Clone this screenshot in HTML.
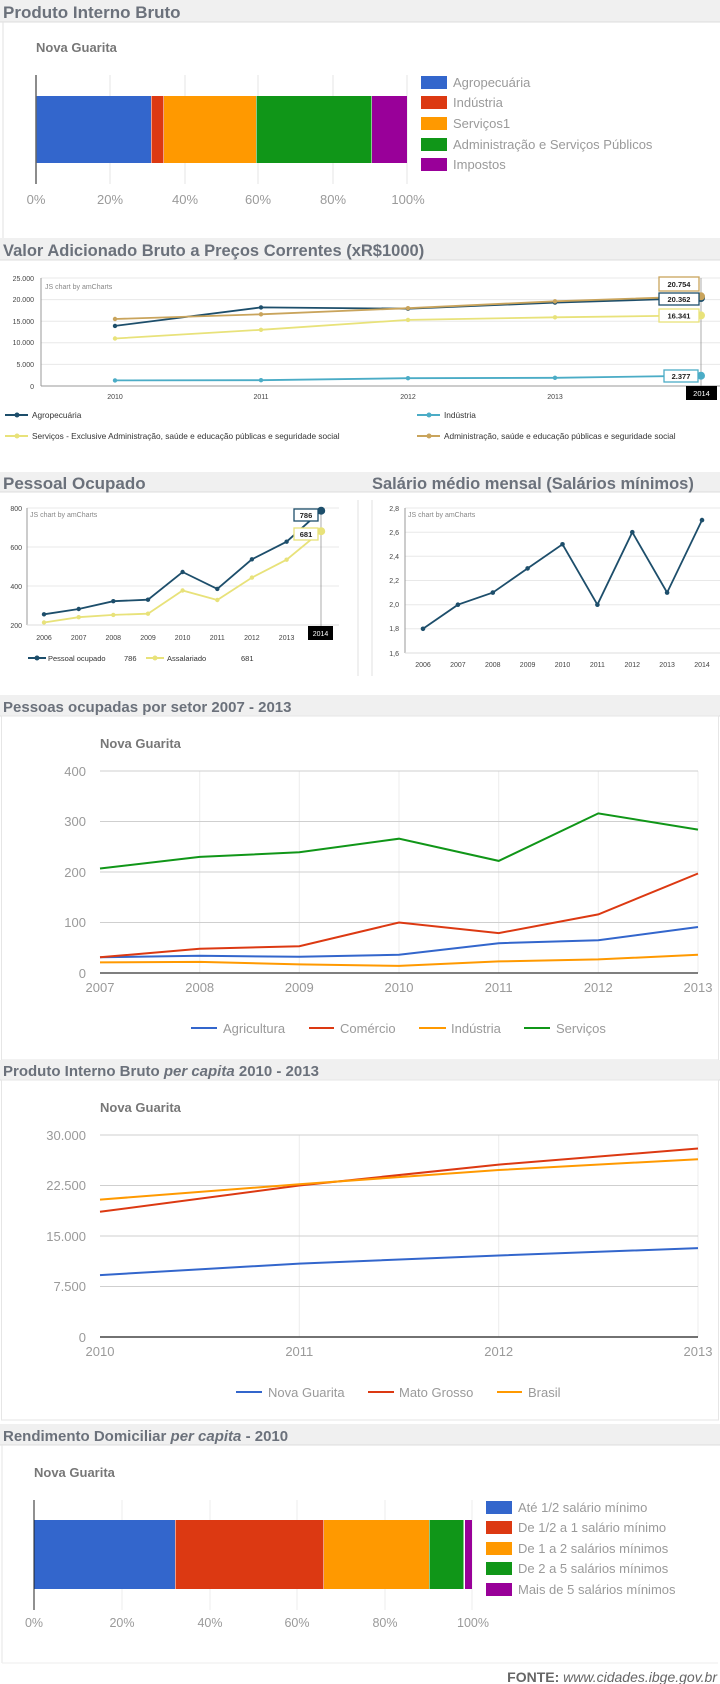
<!DOCTYPE html>
<html><head><meta charset="utf-8"><style>
html,body{margin:0;padding:0;background:#fff;}
svg{display:block;font-family:"Liberation Sans",Arial,sans-serif;}
.t{font-weight:bold;fill:#6b717b;}
.ng{font-weight:bold;fill:#777;font-size:13px;}
.g{fill:#9a9a9a;}
.s{fill:#444;font-size:7px;}
</style></head><body>
<svg width="720" height="1684" viewBox="0 0 720 1684" xmlns="http://www.w3.org/2000/svg">
<!-- Title 1 -->
<rect x="0" y="0" width="720" height="22" fill="#f0f0f0"/>
<line x1="0" y1="22" x2="720" y2="22" stroke="#ddd"/>
<text x="3" y="18" class="t" font-size="17">Produto Interno Bruto</text>
<line x1="3" y1="22" x2="3" y2="238" stroke="#e2e2e2"/>
<text x="36" y="52" class="ng">Nova Guarita</text>
<g stroke="#e6e6e6"><line x1="110" y1="75" x2="110" y2="184"/><line x1="185" y1="75" x2="185" y2="184"/><line x1="258" y1="75" x2="258" y2="184"/><line x1="333" y1="75" x2="333" y2="184"/><line x1="407" y1="75" x2="407" y2="184"/></g>
<rect x="36" y="96" width="115" height="67" fill="#3366cc"/>
<rect x="151.5" y="96" width="12" height="67" fill="#dc3912"/>
<rect x="164" y="96" width="92" height="67" fill="#ff9900"/>
<rect x="256.5" y="96" width="115" height="67" fill="#109618"/>
<rect x="372" y="96" width="35" height="67" fill="#990099"/>
<line x1="36" y1="75" x2="36" y2="184" stroke="#666" stroke-width="1.5"/>
<g class="g" font-size="13" text-anchor="middle"><text x="36" y="204">0%</text><text x="110" y="204">20%</text><text x="185" y="204">40%</text><text x="258" y="204">60%</text><text x="333" y="204">80%</text><text x="408" y="204">100%</text></g>
<rect x="421" y="76" width="26" height="13" fill="#3366cc"/>
<rect x="421" y="96" width="26" height="13" fill="#dc3912"/>
<rect x="421" y="117" width="26" height="13" fill="#ff9900"/>
<rect x="421" y="138" width="26" height="13" fill="#109618"/>
<rect x="421" y="158" width="26" height="13" fill="#990099"/>
<g class="g" font-size="13"><text x="453" y="87">Agropecuária</text><text x="453" y="107">Indústria</text><text x="453" y="128">Serviços1</text><text x="453" y="149">Administração e Serviços Públicos</text><text x="453" y="169">Impostos</text></g>

<!-- Title 2 -->
<rect x="0" y="238" width="720" height="22" fill="#f0f0f0"/>
<line x1="0" y1="260" x2="720" y2="260" stroke="#ddd"/>
<text x="3" y="256" class="t" font-size="16.5">Valor Adicionado Bruto a Preços Correntes (xR$1000)</text>
<g stroke="#e8e8e8"><line x1="41" y1="278" x2="720" y2="278"/><line x1="41" y1="299.6" x2="720" y2="299.6"/><line x1="41" y1="321.2" x2="720" y2="321.2"/><line x1="41" y1="342.8" x2="720" y2="342.8"/><line x1="41" y1="364.4" x2="720" y2="364.4"/></g>
<line x1="41" y1="278" x2="41" y2="386" stroke="#999"/>
<line x1="41" y1="386" x2="720" y2="386" stroke="#999"/>
<g class="s" text-anchor="end"><text x="34" y="281">25.000</text><text x="34" y="302">20.000</text><text x="34" y="324">15.000</text><text x="34" y="345">10.000</text><text x="34" y="367">5.000</text><text x="34" y="389">0</text></g>
<g class="s" text-anchor="middle"><text x="115" y="399">2010</text><text x="261" y="399">2011</text><text x="408" y="399">2012</text><text x="555" y="399">2013</text></g>
<text x="45" y="289" fill="#888" font-size="7">JS chart by amCharts</text>
<line x1="701" y1="278" x2="701" y2="386" stroke="#888" stroke-width="0.7"/>
<g fill="none" stroke-width="1.8">
<polyline stroke="#4bacc6" points="115,380.4 261,380.2 408,378.2 555,377.8 701,375.7"/>
<polyline stroke="#e8e27a" points="115,338.5 261,329.8 408,319.9 555,317.3 701,315.4"/>
<polyline stroke="#1d4e6b" points="115,325.9 261,307.4 408,308.7 555,302.6 701,298"/>
<polyline stroke="#c9a45c" points="115,319 261,314.3 408,308.2 555,301.3 701,296.3"/>
</g>
<g fill="#4bacc6"><circle cx="115" cy="380.4" r="2.2"/><circle cx="261" cy="380.2" r="2.2"/><circle cx="408" cy="378.2" r="2.2"/><circle cx="555" cy="377.8" r="2.2"/><circle cx="701" cy="375.7" r="4"/></g>
<g fill="#e8e27a"><circle cx="115" cy="338.5" r="2.2"/><circle cx="261" cy="329.8" r="2.2"/><circle cx="408" cy="319.9" r="2.2"/><circle cx="555" cy="317.3" r="2.2"/><circle cx="701" cy="315.4" r="4"/></g>
<g fill="#1d4e6b"><circle cx="115" cy="325.9" r="2.2"/><circle cx="261" cy="307.4" r="2.2"/><circle cx="408" cy="308.7" r="2.2"/><circle cx="555" cy="302.6" r="2.2"/><circle cx="701" cy="298" r="4"/></g>
<g fill="#c9a45c"><circle cx="115" cy="319" r="2.2"/><circle cx="261" cy="314.3" r="2.2"/><circle cx="408" cy="308.2" r="2.2"/><circle cx="555" cy="301.3" r="2.2"/><circle cx="701" cy="296.3" r="4"/></g>
<g font-size="7.5" font-weight="bold" fill="#222" text-anchor="middle">
<rect x="659" y="277" width="40" height="14" fill="#fff" stroke="#c9a45c" stroke-width="1.3"/><text x="679" y="287">20.754</text>
<rect x="659" y="293" width="40" height="12" fill="#fff" stroke="#1d4e6b" stroke-width="1.3"/><text x="679" y="302">20.362</text>
<rect x="659" y="309" width="40" height="13" fill="#fff" stroke="#e8e27a" stroke-width="1.3"/><text x="679" y="318.5">16.341</text>
<rect x="664" y="370" width="34" height="12" fill="#fff" stroke="#4bacc6" stroke-width="1.3"/><text x="681" y="379">2.377</text>
</g>
<rect x="686" y="386" width="31" height="14" fill="#000"/><text x="701.5" y="396" fill="#fff" font-size="7.5" text-anchor="middle">2014</text>
<g stroke-width="2"><line x1="5" y1="415" x2="28" y2="415" stroke="#1d4e6b"/><line x1="417" y1="415" x2="440" y2="415" stroke="#4bacc6"/><line x1="5" y1="436" x2="28" y2="436" stroke="#e8e27a"/><line x1="417" y1="436" x2="440" y2="436" stroke="#c9a45c"/></g>
<circle cx="17" cy="415" r="2.5" fill="#1d4e6b"/><circle cx="429" cy="415" r="2.5" fill="#4bacc6"/><circle cx="17" cy="436" r="2.5" fill="#e8e27a"/><circle cx="429" cy="436" r="2.5" fill="#c9a45c"/>
<g fill="#333" font-size="8.3"><text x="32" y="418">Agropecuária</text><text x="444" y="418">Indústria</text><text x="32" y="439">Serviços - Exclusive Administração, saúde e educação públicas e seguridade social</text><text x="444" y="439">Administração, saúde e educação públicas e seguridade social</text></g>

<!-- Title 3 pair -->
<rect x="0" y="472" width="720" height="20" fill="#f0f0f0"/>
<line x1="0" y1="492" x2="720" y2="492" stroke="#ddd"/>
<text x="3" y="489" class="t" font-size="17">Pessoal Ocupado</text>
<text x="372" y="489" class="t" font-size="16.5">Salário médio mensal (Salários mínimos)</text>
<line x1="358" y1="500" x2="358" y2="676" stroke="#e2e2e2"/>
<line x1="372" y1="500" x2="372" y2="676" stroke="#e2e2e2"/>
<!-- left chart -->
<g stroke="#e8e8e8"><line x1="27" y1="508" x2="339" y2="508"/><line x1="27" y1="547" x2="339" y2="547"/><line x1="27" y1="586" x2="339" y2="586"/></g>
<line x1="27" y1="508" x2="27" y2="625" stroke="#999"/><line x1="27" y1="625" x2="339" y2="625" stroke="#ddd"/>
<g class="s" text-anchor="end"><text x="22" y="511">800</text><text x="22" y="550">600</text><text x="22" y="589">400</text><text x="22" y="628">200</text></g>
<text x="30" y="517" fill="#888" font-size="7">JS chart by amCharts</text>
<g class="s" text-anchor="middle"><text x="44" y="640">2006</text><text x="78.7" y="640">2007</text><text x="113.3" y="640">2008</text><text x="148" y="640">2009</text><text x="182.6" y="640">2010</text><text x="217.3" y="640">2011</text><text x="251.9" y="640">2012</text><text x="286.6" y="640">2013</text></g>
<line x1="321" y1="508" x2="321" y2="626" stroke="#888" stroke-width="0.7"/>
<g fill="none" stroke-width="1.8">
<polyline stroke="#e8e27a" points="44,622.5 78.7,617.2 113.3,614.9 148,613.7 182.6,590.5 217.3,600 251.9,577.6 286.6,559.7 321.2,531.2"/>
<polyline stroke="#1d4e6b" points="44,614.3 78.7,609 113.3,601.2 148,599.7 182.6,572 217.3,588.9 251.9,559.3 286.6,541.7 321.2,510.7"/>
</g>
<g fill="#e8e27a"><circle cx="44" cy="622.5" r="2.2"/><circle cx="78.7" cy="617.2" r="2.2"/><circle cx="113.3" cy="614.9" r="2.2"/><circle cx="148" cy="613.7" r="2.2"/><circle cx="182.6" cy="590.5" r="2.2"/><circle cx="217.3" cy="600" r="2.2"/><circle cx="251.9" cy="577.6" r="2.2"/><circle cx="286.6" cy="559.7" r="2.2"/><circle cx="321.2" cy="531.2" r="4"/></g>
<g fill="#1d4e6b"><circle cx="44" cy="614.3" r="2.2"/><circle cx="78.7" cy="609" r="2.2"/><circle cx="113.3" cy="601.2" r="2.2"/><circle cx="148" cy="599.7" r="2.2"/><circle cx="182.6" cy="572" r="2.2"/><circle cx="217.3" cy="588.9" r="2.2"/><circle cx="251.9" cy="559.3" r="2.2"/><circle cx="286.6" cy="541.7" r="2.2"/><circle cx="321.2" cy="510.7" r="4"/></g>
<g font-size="7.5" font-weight="bold" fill="#222" text-anchor="middle">
<rect x="294" y="509" width="24" height="12" fill="#fff" stroke="#1d4e6b" stroke-width="1.3"/><text x="306" y="518">786</text>
<rect x="294" y="528" width="24" height="12" fill="#fff" stroke="#e8e27a" stroke-width="1.3"/><text x="306" y="537">681</text>
</g>
<rect x="308" y="626" width="25" height="14" fill="#000"/><text x="320.5" y="636" fill="#fff" font-size="7" text-anchor="middle">2014</text>
<line x1="28" y1="658" x2="46" y2="658" stroke="#1d4e6b" stroke-width="2"/><circle cx="37" cy="658" r="2.5" fill="#1d4e6b"/>
<line x1="146" y1="658" x2="164" y2="658" stroke="#e8e27a" stroke-width="2"/><circle cx="155" cy="658" r="2.5" fill="#e8e27a"/>
<g fill="#333" font-size="7.5"><text x="48" y="661">Pessoal ocupado</text><text x="124" y="661">786</text><text x="167" y="661">Assalariado</text><text x="241" y="661">681</text></g>
<!-- right chart -->
<g stroke="#e8e8e8"><line x1="405" y1="508" x2="720" y2="508"/><line x1="405" y1="532.2" x2="720" y2="532.2"/><line x1="405" y1="556.3" x2="720" y2="556.3"/><line x1="405" y1="580.5" x2="720" y2="580.5"/><line x1="405" y1="604.7" x2="720" y2="604.7"/><line x1="405" y1="628.8" x2="720" y2="628.8"/></g>
<line x1="405" y1="508" x2="405" y2="653" stroke="#999"/><line x1="405" y1="653" x2="720" y2="653" stroke="#ddd"/>
<g class="s" text-anchor="end"><text x="399" y="511">2,8</text><text x="399" y="535">2,6</text><text x="399" y="559">2,4</text><text x="399" y="583">2,2</text><text x="399" y="607">2,0</text><text x="399" y="631">1,8</text><text x="399" y="656">1,6</text></g>
<text x="408" y="517" fill="#888" font-size="7">JS chart by amCharts</text>
<g class="s" text-anchor="middle"><text x="423" y="667">2006</text><text x="457.9" y="667">2007</text><text x="492.8" y="667">2008</text><text x="527.6" y="667">2009</text><text x="562.5" y="667">2010</text><text x="597.4" y="667">2011</text><text x="632.3" y="667">2012</text><text x="667.1" y="667">2013</text><text x="702" y="667">2014</text></g>
<polyline fill="none" stroke="#1d4e6b" stroke-width="1.8" points="423,628.8 457.9,604.7 492.8,592.6 527.6,568.4 562.5,544.3 597.4,604.7 632.3,532.2 667.1,592.6 702,520.1"/>
<g fill="#1d4e6b"><circle cx="423" cy="628.8" r="2.3"/><circle cx="457.9" cy="604.7" r="2.3"/><circle cx="492.8" cy="592.6" r="2.3"/><circle cx="527.6" cy="568.4" r="2.3"/><circle cx="562.5" cy="544.3" r="2.3"/><circle cx="597.4" cy="604.7" r="2.3"/><circle cx="632.3" cy="532.2" r="2.3"/><circle cx="667.1" cy="592.6" r="2.3"/><circle cx="702" cy="520.1" r="2.3"/></g>

<!-- Title 4 -->
<rect x="0" y="695" width="720" height="21" fill="#f0f0f0"/>
<line x1="0" y1="716" x2="720" y2="716" stroke="#ddd"/>
<text x="3" y="712" class="t" font-size="15">Pessoas ocupadas por setor 2007 - 2013</text>
<rect x="1.5" y="716" width="717" height="344" fill="none" stroke="#e6e6e6"/>
<text x="100" y="748" class="ng">Nova Guarita</text>
<g stroke="#ececec"><line x1="199.7" y1="771" x2="199.7" y2="973"/><line x1="299.3" y1="771" x2="299.3" y2="973"/><line x1="399" y1="771" x2="399" y2="973"/><line x1="498.7" y1="771" x2="498.7" y2="973"/><line x1="598.3" y1="771" x2="598.3" y2="973"/><line x1="698" y1="771" x2="698" y2="973"/></g>
<g stroke="#cfcfcf"><line x1="100" y1="771" x2="698" y2="771"/><line x1="100" y1="821.5" x2="698" y2="821.5"/><line x1="100" y1="872" x2="698" y2="872"/><line x1="100" y1="922.5" x2="698" y2="922.5"/></g>
<line x1="100" y1="973" x2="698" y2="973" stroke="#555" stroke-width="1.5"/>
<g class="g" font-size="13" text-anchor="end"><text x="86" y="776">400</text><text x="86" y="826">300</text><text x="86" y="877">200</text><text x="86" y="927">100</text><text x="86" y="978">0</text></g>
<g class="g" font-size="13" text-anchor="middle"><text x="100" y="992">2007</text><text x="199.7" y="992">2008</text><text x="299.3" y="992">2009</text><text x="399" y="992">2010</text><text x="498.7" y="992">2011</text><text x="598.3" y="992">2012</text><text x="698" y="992">2013</text></g>
<g fill="none" stroke-width="2">
<polyline stroke="#ff9900" points="100,962.4 199.7,961.9 299.3,964.4 399,965.9 498.7,961.4 598.3,959.4 698,954.8"/>
<polyline stroke="#3366cc" points="100,957.3 199.7,955.8 299.3,956.8 399,954.8 498.7,943.2 598.3,940.2 698,927"/>
<polyline stroke="#dc3912" points="100,957.3 199.7,948.8 299.3,946.2 399,922.5 498.7,933.1 598.3,914.4 698,873.5"/>
<polyline stroke="#109618" points="100,868.5 199.7,856.9 299.3,852.3 399,838.7 498.7,860.9 598.3,813.4 698,829.6"/>
</g>
<g stroke-width="2"><line x1="191" y1="1028" x2="217" y2="1028" stroke="#3366cc"/><line x1="309" y1="1028" x2="334" y2="1028" stroke="#dc3912"/><line x1="419" y1="1028" x2="446" y2="1028" stroke="#ff9900"/><line x1="524" y1="1028" x2="550" y2="1028" stroke="#109618"/></g>
<g class="g" font-size="13"><text x="223" y="1033">Agricultura</text><text x="340" y="1033">Comércio</text><text x="451" y="1033">Indústria</text><text x="556" y="1033">Serviços</text></g>

<!-- Title 5 -->
<rect x="0" y="1060" width="720" height="20" fill="#f0f0f0"/>
<line x1="0" y1="1080" x2="720" y2="1080" stroke="#ddd"/>
<text x="3" y="1076" class="t" font-size="15">Produto Interno Bruto <tspan font-style="italic">per capita</tspan> 2010 - 2013</text>
<rect x="1.5" y="1080" width="717" height="340" fill="none" stroke="#e6e6e6"/>
<text x="100" y="1112" class="ng">Nova Guarita</text>
<g stroke="#ececec"><line x1="299.3" y1="1135" x2="299.3" y2="1337"/><line x1="498.7" y1="1135" x2="498.7" y2="1337"/><line x1="698" y1="1135" x2="698" y2="1337"/></g>
<g stroke="#cfcfcf"><line x1="100" y1="1135" x2="698" y2="1135"/><line x1="100" y1="1185.5" x2="698" y2="1185.5"/><line x1="100" y1="1236" x2="698" y2="1236"/><line x1="100" y1="1286.5" x2="698" y2="1286.5"/></g>
<line x1="100" y1="1337" x2="698" y2="1337" stroke="#444" stroke-width="1.5"/>
<g class="g" font-size="13" text-anchor="end"><text x="86" y="1140">30.000</text><text x="86" y="1190">22.500</text><text x="86" y="1241">15.000</text><text x="86" y="1291">7.500</text><text x="86" y="1342">0</text></g>
<g class="g" font-size="13" text-anchor="middle"><text x="100" y="1356">2010</text><text x="299.3" y="1356">2011</text><text x="498.7" y="1356">2012</text><text x="698" y="1356">2013</text></g>
<g fill="none" stroke-width="2">
<polyline stroke="#3366cc" points="100,1275.1 299.3,1263.6 498.7,1255.5 698,1248.1"/>
<polyline stroke="#dc3912" points="100,1211.8 299.3,1185.5 498.7,1164.6 698,1148.5"/>
<polyline stroke="#ff9900" points="100,1199.6 299.3,1184.2 498.7,1170 698,1159.2"/>
</g>
<g stroke-width="2"><line x1="236" y1="1392" x2="262" y2="1392" stroke="#3366cc"/><line x1="368" y1="1392" x2="394" y2="1392" stroke="#dc3912"/><line x1="497" y1="1392" x2="522" y2="1392" stroke="#ff9900"/></g>
<g class="g" font-size="13"><text x="268" y="1397">Nova Guarita</text><text x="399" y="1397">Mato Grosso</text><text x="528" y="1397">Brasil</text></g>

<!-- Title 6 -->
<rect x="0" y="1424" width="720" height="21" fill="#f0f0f0"/>
<line x1="0" y1="1445" x2="720" y2="1445" stroke="#ddd"/>
<text x="3" y="1441" class="t" font-size="15">Rendimento Domiciliar <tspan font-style="italic">per capita</tspan> - 2010</text>
<line x1="2" y1="1445" x2="2" y2="1663" stroke="#e6e6e6"/>
<line x1="2" y1="1663" x2="718" y2="1663" stroke="#eee"/>
<text x="34" y="1477" class="ng">Nova Guarita</text>
<g stroke="#ececec"><line x1="122" y1="1500" x2="122" y2="1610"/><line x1="210" y1="1500" x2="210" y2="1610"/><line x1="297" y1="1500" x2="297" y2="1610"/><line x1="385" y1="1500" x2="385" y2="1610"/><line x1="472" y1="1500" x2="472" y2="1610"/></g>
<rect x="34" y="1520" width="141" height="69" fill="#3366cc"/>
<rect x="175.5" y="1520" width="148" height="69" fill="#dc3912"/>
<rect x="324" y="1520" width="105" height="69" fill="#ff9900"/>
<rect x="429.5" y="1520" width="34" height="69" fill="#109618"/>
<rect x="465" y="1520" width="7" height="69" fill="#990099"/>
<line x1="34" y1="1500" x2="34" y2="1610" stroke="#222" stroke-width="1"/>
<g class="g" font-size="12.5" text-anchor="middle"><text x="34" y="1627">0%</text><text x="122" y="1627">20%</text><text x="210" y="1627">40%</text><text x="297" y="1627">60%</text><text x="385" y="1627">80%</text><text x="473" y="1627">100%</text></g>
<rect x="486" y="1501" width="26" height="13" fill="#3366cc"/>
<rect x="486" y="1521" width="26" height="13" fill="#dc3912"/>
<rect x="486" y="1542" width="26" height="13" fill="#ff9900"/>
<rect x="486" y="1562" width="26" height="13" fill="#109618"/>
<rect x="486" y="1583" width="26" height="13" fill="#990099"/>
<g class="g" font-size="13"><text x="518" y="1512">Até 1/2 salário mínimo</text><text x="518" y="1532">De 1/2 a 1 salário mínimo</text><text x="518" y="1553">De 1 a 2 salários mínimos</text><text x="518" y="1573">De 2 a 5 salários mínimos</text><text x="518" y="1594">Mais de 5 salários mínimos</text></g>
<text x="717" y="1682" text-anchor="end" font-size="14" fill="#666"><tspan font-weight="bold">FONTE:</tspan> <tspan font-style="italic">www.cidades.ibge.gov.br</tspan></text>
</svg>
</body></html>
